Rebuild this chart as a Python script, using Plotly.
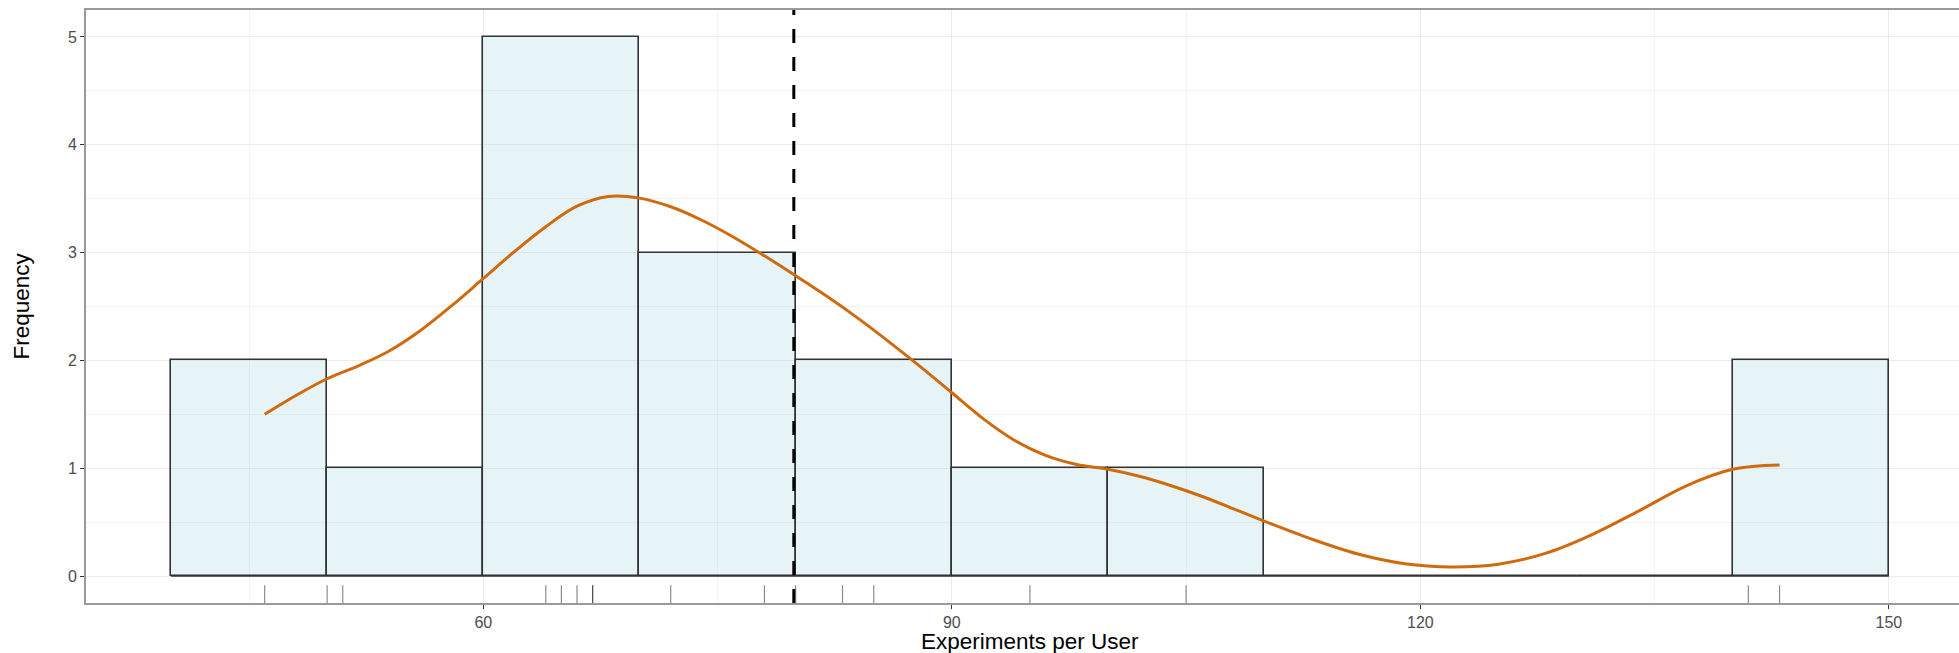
import plotly.graph_objects as go
import numpy as np

# ---- data ----
experiments = [46, 50, 51, 64, 65, 66, 67, 67, 72, 78, 80, 83, 85, 95, 105, 141, 143]
bin_starts = [40, 50, 60, 70, 80, 90, 100, 110, 120, 130, 140]
bin_counts = [2, 1, 5, 3, 2, 1, 1, 0, 0, 0, 2]
bin_width = 10

density_x = [46, 48, 50, 52, 54, 56, 58, 60, 62, 64, 66, 68, 70, 72, 74, 76, 78, 80,
             82, 84, 86, 88, 90, 92, 94, 96, 98, 100, 102, 104, 106, 108, 110, 113,
             116, 119, 122, 125, 128, 131, 134, 137, 140, 143]
density_y = [1.50, 1.675, 1.83, 1.95, 2.09, 2.28, 2.51, 2.76, 3.01, 3.24, 3.43, 3.52,
             3.505, 3.425, 3.30, 3.145, 2.97, 2.785, 2.595, 2.39, 2.17, 1.94, 1.70, 1.46,
             1.26, 1.12, 1.035, 0.99, 0.925, 0.84, 0.74, 0.625, 0.51, 0.345, 0.205,
             0.115, 0.085, 0.11, 0.21, 0.385, 0.605, 0.835, 0.99, 1.03]

x_ticks = [60, 90, 120, 150]
x_minor = [45, 75, 105, 135]
y_ticks = [0, 1, 2, 3, 4, 5]
y_minor = [0.5, 1.5, 2.5, 3.5, 4.5]

mean_value = float(np.mean(experiments))

FONT = "Liberation Sans, Arial, sans-serif"
W, H = 1959, 653
ML, MT, MB = 86, 10, 50

fig = go.Figure()

fig.add_trace(go.Bar(
    x=bin_starts, y=bin_counts, width=bin_width, offset=0,
    marker=dict(color="rgba(173,216,230,0.3)", line=dict(color="#333333", width=1.6)),
    hoverinfo="skip", showlegend=False,
))

# baseline outline for empty bins
fig.add_trace(go.Scatter(
    x=[bin_starts[0], bin_starts[-1] + bin_width], y=[0, 0], mode="lines",
    line=dict(color="#333333", width=1.6), hoverinfo="skip", showlegend=False,
))

fig.add_trace(go.Scatter(
    x=density_x, y=density_y, mode="lines",
    line=dict(color="#CF6A0F", width=3, shape="spline", smoothing=1.0),
    hoverinfo="skip", showlegend=False,
))

shapes = []
for v in experiments:
    shapes.append(dict(type="line", xref="x", yref="y domain", x0=v, x1=v, y0=0, y1=0.03,
                       line=dict(color="rgba(0,0,0,0.45)", width=1.2)))
shapes.append(dict(type="line", xref="x", yref="y domain", x0=mean_value, x1=mean_value,
                   y0=0, y1=1, line=dict(color="black", width=3, dash="14px,14px")))

fig.update_layout(
    width=W, height=H,
    margin=dict(l=ML, r=0, t=MT, b=MB, autoexpand=False),
    paper_bgcolor="white", plot_bgcolor="white",
    font=dict(family=FONT, color="#4D4D4D"),
    shapes=shapes,
    bargap=0,
)

fig.update_xaxes(
    range=[34.56, 154.49], tickvals=x_ticks, ticktext=[str(t) for t in x_ticks],
    ticks="outside", ticklen=4, tickcolor="#333333", tickwidth=1,
    tickfont=dict(size=16, color="#4D4D4D", family=FONT),
    showgrid=True, gridcolor="#EBEBEB", gridwidth=1.3,
    minor=dict(tickvals=x_minor, showgrid=True, gridcolor="#F3F3F3", gridwidth=1, ticks=""),
    showline=True, linecolor="#9A9A9A", linewidth=1.6, mirror=True,
    zeroline=False, fixedrange=True,
)
fig.update_yaxes(
    range=[-0.25, 5.25], tickvals=y_ticks, ticktext=[str(t) for t in y_ticks],
    ticks="outside", ticklen=4, tickcolor="#333333", tickwidth=1,
    tickfont=dict(size=16, color="#4D4D4D", family=FONT),
    showgrid=True, gridcolor="#EBEBEB", gridwidth=1.3,
    minor=dict(tickvals=y_minor, showgrid=True, gridcolor="#F3F3F3", gridwidth=1, ticks=""),
    showline=True, linecolor="#9A9A9A", linewidth=1.6,
    zeroline=False, fixedrange=True,
)

plot_w = W - ML
fig.add_annotation(
    text="Experiments per User", xref="paper", yref="paper",
    x=(1030 - ML) / plot_w, y=-(641 - (H - MB)) / (H - MT - MB),
    xanchor="center", yanchor="middle", showarrow=False,
    font=dict(size=22.5, color="black", family=FONT),
)
fig.add_annotation(
    text="Frequency", xref="paper", yref="paper",
    x=-(ML - 21) / plot_w, y=0.5, textangle=-90,
    xanchor="center", yanchor="middle", showarrow=False,
    font=dict(size=22.5, color="black", family=FONT),
)

fig.write_html(
    "out.html",
    config={"displayModeBar": False},
    post_script="document.body.style.margin='0';document.body.style.overflow='hidden';",
)
